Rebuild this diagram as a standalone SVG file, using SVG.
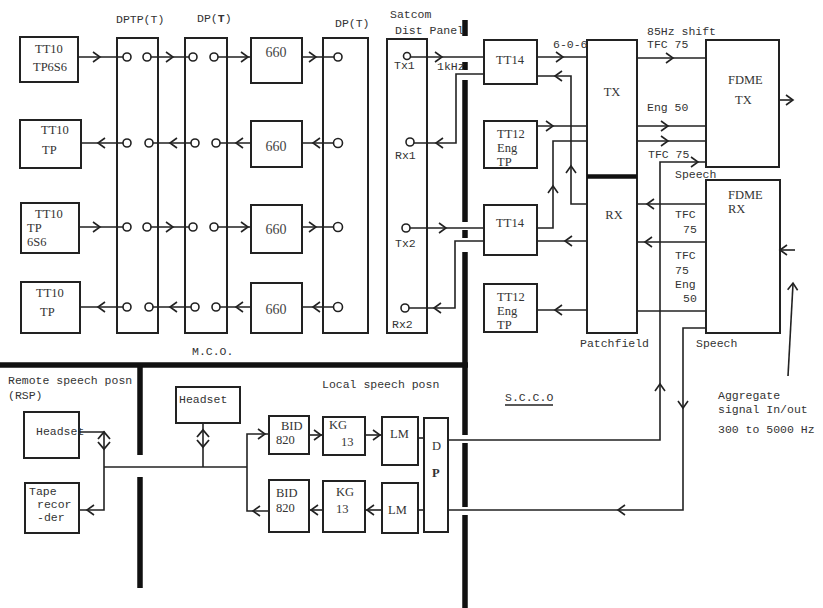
<svg xmlns="http://www.w3.org/2000/svg" width="823" height="608" viewBox="0 0 823 608">
<style>
.b{fill:#fff;stroke:#222;stroke-width:2}
.l{fill:none;stroke:#222;stroke-width:1.6}
.w{fill:none;stroke:#111;stroke-width:5.5}
.c{fill:#fff;stroke:#222;stroke-width:1.6}
.m{font-family:"Liberation Mono",monospace;font-size:11.5px;fill:#333}
.s{font-family:"Liberation Serif",serif;font-size:12.5px;fill:#333}
.n{font-family:"Liberation Serif",serif;font-size:14px;fill:#444}
</style>
<defs>
<path id="ar" d="M-7,-5 L0,0 L-7,5" fill="none" stroke="#222" stroke-width="1.6"/>
<path id="dm" d="M-6,-1 L0,-8 L6,-1 M-6,2 L0,9 L6,2" fill="none" stroke="#222" stroke-width="1.8"/>
</defs>
<rect width="823" height="608" fill="#fff"/>

<g id="walls">
<path class="w" d="M0,365 H468"/>
<path class="w" d="M140,365 V455 M140,477 V588"/>
<path class="w" d="M465,20 V36 M465,62 V70 M465,80 V222 M465,230 V238 M465,252 V435 M465,443 V507 M465,515 V608"/>
</g>

<g id="headers">
<text class="m" x="116" y="23">DPTP(T)</text>
<text class="m" x="197" y="22">DP(<tspan font-weight="bold">T</tspan>)</text>
<text class="m" x="335" y="27">DP(T)</text>
<text class="m" x="390" y="18">Satcom</text>
<text class="m" x="395" y="34">Dist Panel</text>
<text class="m" x="192" y="355">M.C.O.</text>
<text class="m" x="8" y="384">Remote speech posn</text>
<text class="m" x="8" y="399">(RSP)</text>
<text class="m" x="322" y="388">Local speech posn</text>
<text class="m" x="505" y="401">S.C.C.O</text>
<path class="l" d="M505,405 H553" stroke-width="1"/>
<text class="m" x="580" y="347">Patchfield</text>
<text class="m" x="696" y="347">Speech</text>
<text class="m" x="718" y="399">Aggregate</text>
<text class="m" x="718" y="413">signal In/out</text>
<text class="m" x="718" y="433">300 to 5000 Hz</text>
</g>

<g id="tt10a"><rect class="b" x="20" y="37" width="58" height="45"/><text class="s" x="35" y="53">TT10</text><text class="s" x="33" y="71">TP6S6</text></g>
<g id="tt10b"><rect class="b" x="20" y="120" width="61" height="48"/><text class="s" x="41" y="134">TT10</text><text class="s" x="42" y="154">TP</text></g>
<g id="tt10c"><rect class="b" x="21" y="203" width="58" height="50"/><text class="s" x="35" y="218">TT10</text><text class="s" x="27" y="232" font-size="11">TP</text><text class="s" x="27" y="246" font-size="11">6S6</text></g>
<g id="tt10d"><rect class="b" x="21" y="282" width="59" height="51"/><text class="s" x="36" y="297">TT10</text><text class="s" x="40" y="316">TP</text></g>

<g id="dptp"><rect class="b" x="117" y="38" width="41" height="295"/></g>
<g id="dp1"><rect class="b" x="185" y="38" width="42" height="295"/></g>
<g id="dp2"><rect class="b" x="323" y="38" width="45" height="295"/></g>
<g id="satcom"><rect class="b" x="387" y="39" width="40" height="294"/>
<text class="m" x="394" y="69">Tx1</text><text class="m" x="395" y="159">Rx1</text><text class="m" x="395" y="247">Tx2</text><text class="m" x="392" y="328">Rx2</text></g>

<g id="m660a"><rect class="b" x="251" y="38" width="51" height="45"/><text class="n" x="276" y="57" text-anchor="middle">660</text></g>
<g id="m660b"><rect class="b" x="251" y="121" width="51" height="46"/><text class="n" x="276" y="151" text-anchor="middle">660</text></g>
<g id="m660c"><rect class="b" x="251" y="205" width="51" height="48"/><text class="n" x="276" y="234" text-anchor="middle">660</text></g>
<g id="m660d"><rect class="b" x="251" y="283" width="51" height="50"/><text class="n" x="276" y="314" text-anchor="middle">660</text></g>

<g id="tt14a"><rect class="b" x="484" y="40" width="53" height="44"/><text class="s" x="510" y="64" text-anchor="middle">TT14</text></g>
<g id="tt12a"><rect class="b" x="484" y="121" width="53" height="47"/><text class="s" x="497" y="138">TT12</text><text class="s" x="497" y="152">Eng</text><text class="s" x="497" y="166">TP</text></g>
<g id="tt14b"><rect class="b" x="484" y="205" width="53" height="50"/><text class="s" x="510" y="227" text-anchor="middle">TT14</text></g>
<g id="tt12b"><rect class="b" x="484" y="284" width="53" height="48"/><text class="s" x="497" y="301">TT12</text><text class="s" x="497" y="315">Eng</text><text class="s" x="497" y="329">TP</text></g>

<g id="patchfield">
<rect class="b" x="587" y="40" width="50" height="293"/>
<path d="M587,176.5 H637" stroke="#111" stroke-width="4.5"/>
<text class="s" x="612" y="96" text-anchor="middle">TX</text>
<text class="s" x="614" y="219" text-anchor="middle">RX</text>
</g>
<g id="fdmetx"><rect class="b" x="706" y="40" width="73" height="127"/><text class="s" x="728" y="84">FDME</text><text class="s" x="735" y="104">TX</text></g>
<g id="fdmerx"><rect class="b" x="706" y="180" width="74" height="153"/><text class="s" x="728" y="199">FDME</text><text class="s" x="728" y="213">RX</text></g>

<g id="hs_rsp"><rect class="b" x="24" y="412" width="55" height="46"/><text class="m" x="36" y="435">Headset</text></g>
<g id="tape"><rect class="b" x="25" y="483" width="54" height="50"/><text class="m" x="29" y="495" font-size="11">Tape</text><text class="m" x="37" y="508" font-size="10.5">recor</text><text class="m" x="37" y="521" font-size="10.5">-der</text></g>
<g id="hs_local"><rect class="b" x="176" y="387" width="64" height="36"/><text class="m" x="179" y="403">Headset</text></g>
<g id="bid1"><rect class="b" x="269" y="416" width="40" height="38"/><text class="s" x="281" y="430">BID</text><text class="s" x="276" y="444">820</text></g>
<g id="kg1"><rect class="b" x="323" y="417" width="42" height="38"/><text class="s" x="329" y="429">KG</text><text class="s" x="341" y="446">13</text></g>
<g id="lm1"><rect class="b" x="382" y="417" width="36" height="48"/><text class="s" x="390" y="438" font-size="11">LM</text></g>
<g id="dp"><rect class="b" x="424" y="418" width="24" height="114"/><text class="s" x="432" y="450" font-size="11">D</text><text class="s" x="432" y="477" font-weight="bold">P</text></g>
<g id="bid2"><rect class="b" x="269" y="480" width="40" height="52"/><text class="s" x="276" y="497">BID</text><text class="s" x="276" y="512">820</text></g>
<g id="kg2"><rect class="b" x="323" y="481" width="42" height="51"/><text class="s" x="336" y="496">KG</text><text class="s" x="336" y="513">13</text></g>
<g id="lm2"><rect class="b" x="382" y="483" width="36" height="50"/><text class="s" x="388" y="514" font-size="11">LM</text></g>

<g id="connectors">
<path class="l" d="M78,57 H123 M151,57 H189 M218,57 H251 M302,57 H334"/>
<path class="l" d="M81,143 H123 M153,143 H191 M220,143 H251 M302,143 H334"/>
<path class="l" d="M79,227 H123 M151,227 H189 M218,227 H251 M302,227 H334"/>
<path class="l" d="M80,307 H123 M153,307 H191 M220,307 H251 M302,307 H334"/>
<g>
<circle class="c" cx="127" cy="57" r="4"/><circle class="c" cx="147" cy="57" r="4"/><circle class="c" cx="193" cy="57" r="4"/><circle class="c" cx="214" cy="57" r="4"/><circle class="c" cx="338" cy="57" r="4"/>
<circle class="c" cx="127" cy="143" r="4"/><circle class="c" cx="149" cy="143" r="4"/><circle class="c" cx="195" cy="143" r="4"/><circle class="c" cx="216" cy="143" r="4"/><circle class="c" cx="338" cy="143" r="4.5"/>
<circle class="c" cx="127" cy="227" r="4"/><circle class="c" cx="147" cy="227" r="4"/><circle class="c" cx="193" cy="227" r="4"/><circle class="c" cx="214" cy="227" r="4"/><circle class="c" cx="338" cy="227" r="4.5"/>
<circle class="c" cx="127" cy="307" r="4"/><circle class="c" cx="149" cy="307" r="4"/><circle class="c" cx="195" cy="307" r="4"/><circle class="c" cx="216" cy="307" r="4"/><circle class="c" cx="338" cy="307" r="4.5"/>
</g>
<use href="#ar" transform="translate(100,57)"/><use href="#ar" transform="translate(173,57)"/><use href="#ar" transform="translate(248,57)"/><use href="#ar" transform="translate(316,57)"/>
<use href="#ar" transform="translate(98,143) rotate(180)"/><use href="#ar" transform="translate(170,143) rotate(180)"/><use href="#ar" transform="translate(236,143) rotate(180)"/><use href="#ar" transform="translate(313,143) rotate(180)"/>
<use href="#ar" transform="translate(100,227)"/><use href="#ar" transform="translate(173,227)"/><use href="#ar" transform="translate(248,227)"/><use href="#ar" transform="translate(316,227)"/>
<use href="#ar" transform="translate(98,307) rotate(180)"/><use href="#ar" transform="translate(170,307) rotate(180)"/><use href="#ar" transform="translate(236,307) rotate(180)"/><use href="#ar" transform="translate(313,307) rotate(180)"/>

<circle class="c" cx="407" cy="56" r="3.5"/><circle class="c" cx="410" cy="142" r="4"/><circle class="c" cx="406" cy="228" r="4"/><circle class="c" cx="405" cy="308" r="4"/>
<path class="l" d="M411,57 H484"/><use href="#ar" transform="translate(442,57)"/>
<text class="m" x="437" y="70">1kHz</text>
<path class="l" d="M484,74 H456 V143 H414"/><use href="#ar" transform="translate(436,143) rotate(180)"/>
<path class="l" d="M410,228 H484"/><use href="#ar" transform="translate(446,228)"/>
<path class="l" d="M484,241 H455 V308 H409"/><use href="#ar" transform="translate(434,308) rotate(180)"/>

<path class="l" d="M537,57 H587"/><use href="#ar" transform="translate(563,57)"/>
<text class="m" x="553" y="48">6-0-6</text>
<path class="l" d="M587,204 H571 V76 H537"/><use href="#ar" transform="translate(555,76) rotate(180)"/><use href="#ar" transform="translate(571,166) rotate(-90)"/>
<path class="l" d="M537,126 H587"/><use href="#ar" transform="translate(553,126)"/>
<path class="l" d="M537,228 H553 V141 H587"/><use href="#ar" transform="translate(553,186) rotate(-90)"/>
<path class="l" d="M587,241 H537"/><use href="#ar" transform="translate(565,241) rotate(180)"/>
<path class="l" d="M587,310 H537"/><use href="#ar" transform="translate(555,310) rotate(180)"/>

<text class="m" x="647" y="35">85Hz shift</text>
<text class="m" x="647" y="48">TFC 75</text>
<path class="l" d="M637,58 H706"/><use href="#ar" transform="translate(673,58)"/>
<text class="m" x="647" y="111">Eng 50</text>
<path class="l" d="M637,126 H706"/><use href="#ar" transform="translate(668,126)"/>
<path class="l" d="M637,141 H706"/><use href="#ar" transform="translate(668,141)"/>
<text class="m" x="648" y="158">TFC 75</text>
<text class="m" x="675" y="178">Speech</text>
<path class="l" d="M448,440 H660 V162 H706"/><use href="#ar" transform="translate(698,162)"/><use href="#ar" transform="translate(660,384) rotate(-90)"/>
<path class="l" d="M706,204 H637"/><use href="#ar" transform="translate(647,204) rotate(180)"/>
<text class="m" x="675" y="218">TFC</text><text class="m" x="683" y="233">75</text>
<path class="l" d="M706,242 H637"/><use href="#ar" transform="translate(645,242) rotate(180)"/>
<text class="m" x="675" y="259">TFC</text><text class="m" x="675" y="274">75</text><text class="m" x="675" y="288">Eng</text><text class="m" x="683" y="302">50</text>
<path class="l" d="M706,311 H637"/>
<path class="l" d="M706,328 H683 V510 H448"/><use href="#ar" transform="translate(683,408) rotate(90)"/><use href="#ar" transform="translate(618,510) rotate(180)"/>
<path class="l" d="M779,100 H793"/><use href="#ar" transform="translate(793,100)"/>
<path class="l" d="M780,250 H795"/><use href="#ar" transform="translate(780,250) rotate(180)"/>
<path class="l" d="M788,376 L793,284"/><use href="#ar" transform="translate(793,283) rotate(-87)"/>

<path class="l" d="M79,432 H104 V510 H79"/><use href="#dm" transform="translate(104,440)"/><use href="#ar" transform="translate(87,510) rotate(180)"/>
<path class="l" d="M104,467 H247"/>
<path class="l" d="M203,423 V467"/><use href="#dm" transform="translate(203,438)"/>
<path class="l" d="M269,434 H247 V511 H269"/><use href="#ar" transform="translate(265,434)"/><use href="#ar" transform="translate(253,511) rotate(180)"/>
<path class="l" d="M309,435 H323"/><use href="#ar" transform="translate(321,435)"/>
<path class="l" d="M365,435 H382"/><use href="#ar" transform="translate(380,435)"/>
<path class="l" d="M418,438 H424"/>
<path class="l" d="M424,510 H418"/>
<path class="l" d="M382,510 H365"/><use href="#ar" transform="translate(367,510) rotate(180)"/>
<path class="l" d="M323,510 H309"/><use href="#ar" transform="translate(311,510) rotate(180)"/>
</g>
</svg>
